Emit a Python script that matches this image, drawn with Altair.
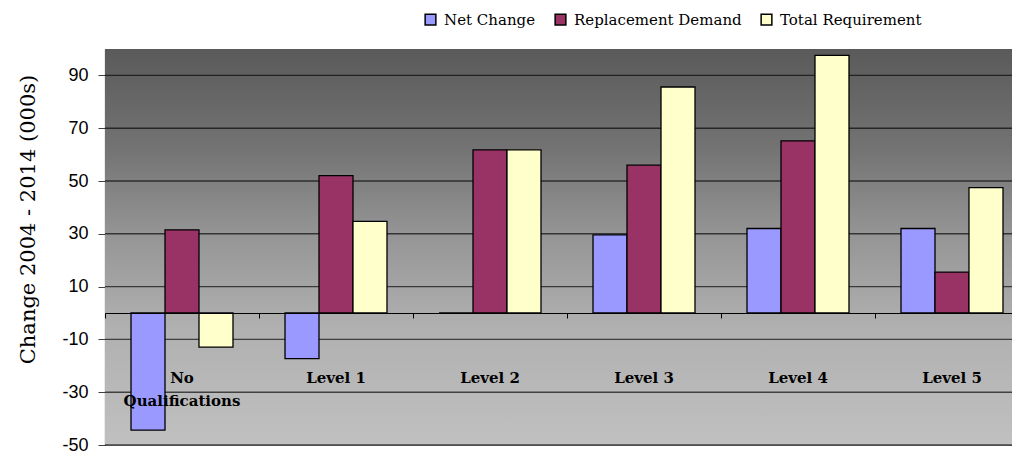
import altair as alt
import pandas as pd

categories = ["No Qualifications", "Level 1", "Level 2", "Level 3", "Level 4", "Level 5"]
series = ["Net Change", "Replacement Demand", "Total Requirement"]
net_change = [-44.4, -17.3, 0.0, 29.6, 32.0, 32.0]
replacement_demand = [31.5, 52.0, 61.8, 56.0, 65.2, 15.5]
total_requirement = [-12.9, 34.7, 61.8, 85.6, 97.6, 47.5]
y_ticks = [-50, -30, -10, 10, 30, 50, 70, 90]
colors = ["#9999FF", "#993366", "#FFFFCC"]

rows = []
for s, vals in zip(series, [net_change, replacement_demand, total_requirement]):
    for c, v in zip(categories, vals):
        rows.append({"category": c, "series": s, "value": v})
df = pd.DataFrame(rows)
grid_df = pd.DataFrame({"value": y_ticks})
bg_df = pd.DataFrame({"a": [0]})

W, H = 907, 396

y_enc = alt.Y(
    "value:Q",
    scale=alt.Scale(domain=[-50, 100], nice=False, zero=False),
    axis=alt.Axis(
        values=y_ticks,
        grid=False,
        domainColor="#404040",
        domainWidth=1.2,
        tickColor="#404040",
        tickSize=7,
        labelExpr="toString(datum.value)",
        labelFont="Liberation Sans",
        labelFontSize=18,
        labelColor="black",
        labelPadding=10,
        title="Change 2004 - 2014 (000s)",
        titleFont="DejaVu Serif",
        titleFontSize=21,
        titleFontWeight="normal",
        titleColor="black",
        titleX=-77,
        titleY=170,
        titleAlign="center",
        titleBaseline="middle",
    ),
)

gradient = alt.LinearGradient(
    gradient="linear",
    stops=[
        alt.GradientStop(offset=0, color="#5a5a5a"),
        alt.GradientStop(offset=0.25, color="#737373"),
        alt.GradientStop(offset=0.47, color="#959595"),
        alt.GradientStop(offset=0.7, color="#b0b0b0"),
        alt.GradientStop(offset=1, color="#c0c0c0"),
    ],
    x1=0, x2=0, y1=0, y2=1,
)

background = alt.Chart(bg_df).mark_rect(fill=gradient).encode(
    x=alt.value(0), x2=alt.value(W), y=alt.value(0), y2=alt.value(H)
)

grid = alt.Chart(grid_df).mark_rule(color="black", opacity=0.65, strokeWidth=1.4).encode(
    y=y_enc
)

bars = alt.Chart(df).mark_bar(stroke="black", strokeWidth=1.3).encode(
    x=alt.X(
        "category:N",
        sort=categories,
        scale=alt.Scale(range=[0, 924], paddingInner=0, paddingOuter=0),
        axis=alt.Axis(
            title=None,
            offset=-132.0,
            bandPosition=0,
            labelAngle=0,
            domainColor="black",
            domainWidth=1.2,
            tickColor="black",
            tickSize=5,
            labelPadding=52,
            labelFont="DejaVu Serif",
            labelFontWeight="bold",
            labelFontSize=15,
            labelColor="black",
            labelLineHeight=23,
            labelBaseline="top",
            labelExpr="datum.value == 'No Qualifications' ? ['No', 'Qualifications'] : datum.value",
            zindex=1,
        ),
    ),
    xOffset=alt.XOffset(
        "series:N", sort=series, scale=alt.Scale(paddingInner=0, paddingOuter=0.765)
    ),
    y=y_enc,
    fill=alt.Fill(
        "series:N",
        sort=series,
        scale=alt.Scale(domain=series, range=colors),
        legend=alt.Legend(
            title=None,
            orient="none",
            direction="horizontal",
            legendX=318,
            legendY=-37,
            symbolType="square",
            symbolSize=115,
            symbolStrokeColor="black",
            symbolStrokeWidth=1.5,
            symbolOpacity=1,
            labelFont="DejaVu Serif",
            labelFontSize=15,
            labelColor="black",
            labelOffset=6,
            labelLimit=0,
            columnPadding=16,
            padding=0,
        ),
    ),
)

chart = (
    alt.layer(background, grid, bars)
    .properties(
        width=W,
        height=H,
        autosize=alt.AutoSizeParams(type="none"),
        padding={"left": 97, "top": 41, "right": 0, "bottom": 10},
        background="white",
    )
    .configure_view(stroke="#999999", strokeWidth=1)
)

chart.save("out.html", embed_options={"renderer": "svg", "actions": False})
